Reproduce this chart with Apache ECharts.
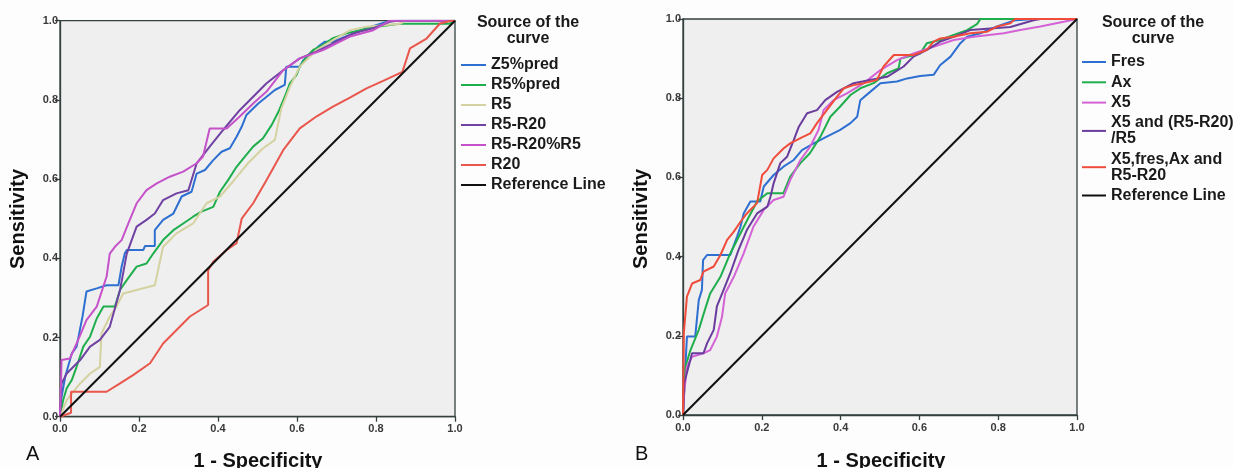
<!DOCTYPE html>
<html>
<head>
<meta charset="utf-8">
<script src="https://cdn.jsdelivr.net/npm/echarts@6/dist/echarts.min.js"></script>
<style>
html,body{margin:0;padding:0;background:#fdfdfd;}
#c{width:1233px;height:468px;}
</style>
</head>
<body>
<div id="c"></div>
<script>
// ---- Panel A data: [1 - Specificity, Sensitivity] ----
const z5pred = [[0,0],[0.004,0.05],[0.013,0.10],[0.03,0.16],[0.042,0.177],[0.057,0.253],[0.067,0.316],[0.093,0.324],[0.118,0.332],[0.148,0.332],[0.156,0.379],[0.164,0.412],[0.169,0.421],[0.211,0.421],[0.215,0.431],[0.24,0.431],[0.24,0.471],[0.261,0.497],[0.287,0.513],[0.308,0.556],[0.333,0.568],[0.346,0.614],[0.367,0.623],[0.388,0.648],[0.409,0.669],[0.43,0.678],[0.447,0.707],[0.46,0.732],[0.472,0.762],[0.502,0.791],[0.523,0.808],[0.544,0.825],[0.569,0.838],[0.573,0.884],[0.607,0.884],[0.616,0.90],[0.637,0.918],[0.653,0.934],[0.67,0.947],[0.691,0.947],[0.734,0.964],[0.776,0.981],[0.826,0.997],[0.843,1],[1,1]];
const r5pred = [[0,0],[0.008,0.042],[0.017,0.072],[0.03,0.093],[0.042,0.126],[0.059,0.177],[0.076,0.202],[0.093,0.248],[0.11,0.278],[0.139,0.278],[0.152,0.32],[0.169,0.345],[0.194,0.379],[0.219,0.387],[0.236,0.412],[0.261,0.446],[0.287,0.471],[0.312,0.488],[0.337,0.505],[0.358,0.518],[0.388,0.53],[0.405,0.568],[0.426,0.598],[0.447,0.631],[0.468,0.657],[0.489,0.682],[0.514,0.703],[0.536,0.737],[0.553,0.77],[0.569,0.808],[0.582,0.842],[0.599,0.863],[0.607,0.884],[0.624,0.909],[0.641,0.926],[0.666,0.939],[0.691,0.956],[0.725,0.968],[0.759,0.976],[0.801,0.985],[0.86,0.992],[0.986,0.992],[1,1]];
const r5 = [[0,0],[0.017,0.042],[0.051,0.084],[0.076,0.109],[0.101,0.126],[0.105,0.21],[0.126,0.253],[0.143,0.278],[0.16,0.311],[0.194,0.32],[0.24,0.332],[0.261,0.429],[0.295,0.463],[0.337,0.488],[0.371,0.539],[0.405,0.556],[0.438,0.594],[0.476,0.64],[0.514,0.678],[0.544,0.699],[0.56,0.777],[0.582,0.833],[0.607,0.884],[0.649,0.926],[0.691,0.951],[0.734,0.976],[0.776,0.985],[0.86,0.992],[0.877,1],[1,1]];
const r5r20 = [[0,0],[0.004,0.084],[0.017,0.109],[0.051,0.143],[0.076,0.177],[0.101,0.194],[0.126,0.227],[0.152,0.32],[0.169,0.412],[0.194,0.48],[0.219,0.497],[0.24,0.513],[0.261,0.547],[0.295,0.564],[0.325,0.572],[0.346,0.64],[0.379,0.682],[0.413,0.724],[0.455,0.774],[0.489,0.808],[0.523,0.842],[0.565,0.875],[0.607,0.905],[0.649,0.922],[0.691,0.943],[0.742,0.968],[0.793,0.981],[0.835,0.997],[0.852,1],[1,1]];
const r5r20pctR5 = [[0,0],[0.004,0.143],[0.025,0.147],[0.046,0.194],[0.067,0.244],[0.093,0.278],[0.118,0.354],[0.126,0.412],[0.139,0.429],[0.156,0.446],[0.173,0.488],[0.194,0.539],[0.219,0.572],[0.245,0.589],[0.278,0.606],[0.312,0.619],[0.346,0.64],[0.362,0.657],[0.379,0.728],[0.422,0.728],[0.455,0.758],[0.489,0.791],[0.523,0.821],[0.565,0.875],[0.607,0.905],[0.666,0.926],[0.734,0.96],[0.793,0.976],[0.835,1],[1,1]];
const r20 = [[0,0],[0.028,0.01],[0.028,0.063],[0.118,0.063],[0.152,0.084],[0.185,0.105],[0.228,0.135],[0.261,0.185],[0.295,0.219],[0.329,0.253],[0.375,0.282],[0.375,0.37],[0.388,0.391],[0.422,0.421],[0.447,0.438],[0.46,0.50],[0.489,0.539],[0.523,0.598],[0.565,0.673],[0.607,0.728],[0.649,0.758],[0.691,0.783],[0.734,0.806],[0.776,0.829],[0.818,0.848],[0.867,0.871],[0.886,0.93],[0.928,0.955],[0.962,0.993],[0.99,1],[1,1]];

// ---- Panel B data ----
const fres = [[0,0],[0.006,0.122],[0.01,0.198],[0.031,0.198],[0.04,0.29],[0.048,0.316],[0.051,0.391],[0.061,0.404],[0.12,0.404],[0.137,0.45],[0.146,0.476],[0.154,0.509],[0.171,0.539],[0.196,0.539],[0.205,0.577],[0.23,0.606],[0.255,0.627],[0.281,0.644],[0.302,0.669],[0.332,0.686],[0.365,0.703],[0.399,0.72],[0.425,0.737],[0.442,0.753],[0.45,0.795],[0.475,0.816],[0.501,0.838],[0.543,0.842],[0.569,0.85],[0.602,0.856],[0.636,0.859],[0.653,0.884],[0.679,0.905],[0.704,0.939],[0.721,0.955],[0.755,0.964],[0.797,0.981],[0.839,0.996],[0.89,1],[1,1]];
const ax = [[0,0],[0.006,0.122],[0.019,0.164],[0.04,0.215],[0.057,0.27],[0.069,0.307],[0.095,0.349],[0.12,0.408],[0.146,0.459],[0.167,0.5],[0.188,0.539],[0.214,0.56],[0.255,0.56],[0.272,0.602],[0.298,0.636],[0.322,0.661],[0.349,0.703],[0.374,0.753],[0.399,0.779],[0.425,0.808],[0.45,0.825],[0.484,0.838],[0.518,0.863],[0.547,0.875],[0.552,0.9],[0.602,0.913],[0.619,0.939],[0.653,0.947],[0.687,0.96],[0.721,0.972],[0.746,0.987],[0.755,1],[1,1]];
const x5 = [[0,0],[0.003,0.055],[0.01,0.122],[0.023,0.147],[0.052,0.156],[0.069,0.164],[0.086,0.198],[0.099,0.248],[0.107,0.307],[0.129,0.349],[0.154,0.408],[0.179,0.476],[0.205,0.518],[0.23,0.543],[0.255,0.551],[0.272,0.593],[0.298,0.644],[0.323,0.678],[0.344,0.72],[0.357,0.77],[0.382,0.795],[0.416,0.812],[0.459,0.838],[0.501,0.871],[0.543,0.896],[0.585,0.913],[0.636,0.93],[0.687,0.947],[0.738,0.955],[0.814,0.964],[0.856,0.972],[0.907,0.981],[0.966,0.993],[1,1]];
const x5AndR5R20 = [[0,0],[0.003,0.08],[0.014,0.122],[0.023,0.156],[0.052,0.156],[0.061,0.181],[0.078,0.215],[0.086,0.274],[0.103,0.316],[0.12,0.358],[0.141,0.417],[0.162,0.467],[0.188,0.509],[0.214,0.526],[0.222,0.551],[0.23,0.585],[0.247,0.636],[0.264,0.652],[0.281,0.694],[0.294,0.728],[0.315,0.762],[0.34,0.77],[0.361,0.795],[0.391,0.816],[0.433,0.838],[0.475,0.846],[0.518,0.854],[0.56,0.88],[0.585,0.905],[0.619,0.922],[0.653,0.943],[0.687,0.955],[0.729,0.972],[0.831,0.98],[0.89,0.997],[0.907,1],[1,1]];
const combined = [[0,0],[0.002,0.206],[0.01,0.299],[0.023,0.332],[0.044,0.341],[0.052,0.362],[0.078,0.375],[0.095,0.404],[0.112,0.442],[0.129,0.463],[0.146,0.488],[0.162,0.509],[0.188,0.535],[0.201,0.606],[0.214,0.619],[0.23,0.648],[0.255,0.673],[0.272,0.686],[0.298,0.699],[0.323,0.711],[0.34,0.737],[0.365,0.77],[0.391,0.804],[0.408,0.825],[0.433,0.833],[0.459,0.838],[0.492,0.846],[0.509,0.88],[0.535,0.909],[0.585,0.909],[0.619,0.922],[0.636,0.943],[0.653,0.951],[0.687,0.955],[0.729,0.964],[0.772,0.968],[0.797,0.981],[0.831,0.989],[0.843,1],[1,1]];
const referenceLine = [[0,0],[1,1]];

const namesA = ['Z5%pred','R5%pred','R5','R5-R20','R5-R20%R5','R20','Reference Line'];
const namesB = ['Fres','Ax','X5','X5 and (R5-R20)\n/R5','X5,fres,Ax and\nR5-R20','Reference Line'];
const ticks = [0, 0.2, 0.4, 0.6, 0.8, 1.0];

const FONT = '"Liberation Sans", Arial, sans-serif';
const colorsA = ['#2e6fd2','#1fae4c','#d4d2a0','#6f42a3','#c552c9','#e9564c','#111111'];
const colorsB = ['#2e6fd2','#1fae4c','#d462d6','#6a3c9e','#f04c3c','#111111'];
const dataA = [z5pred, r5pred, r5, r5r20, r5r20pctR5, r20, referenceLine];
const dataB = [fres, ax, x5, x5AndR5R20, combined, referenceLine];

function axisCommon(gi, isY){
  return {
    gridIndex: gi, type:'value', min:0, max:1, interval:0.2,
    axisLine:{show:true, lineStyle:{color:'#34403f', width:1.3}},
    axisTick:{show:true, inside:false, length:5, lineStyle:{color:'#34403f', width:1.3}},
    splitLine:{show:false},
    axisLabel:{fontFamily:FONT, fontSize:11, fontWeight:'bold', color:'#3a3a3a', margin: isY ? 2 : 7,
      formatter: v => v.toFixed(1)}
  };
}

const series = [];
dataA.forEach((d,i)=>series.push({
  name:namesA[i], type:'line', xAxisIndex:0, yAxisIndex:0, data:d,
  showSymbol:false, symbol:'none', lineStyle:{width:2, color:colorsA[i]}, itemStyle:{color:colorsA[i]},
  z: i===6 ? 5 : 3, silent:true, animation:false
}));
dataB.forEach((d,i)=>series.push({
  name:namesB[i], type:'line', xAxisIndex:1, yAxisIndex:1, data:d,
  showSymbol:false, symbol:'none', lineStyle:{width:2, color:colorsB[i]}, itemStyle:{color:colorsB[i]},
  z: i===5 ? 5 : 3, silent:true, animation:false
}));

const legendText = {fontFamily:FONT, fontSize:16, fontWeight:'bold', color:'#1a1a1a', lineHeight:16};

const option = {
  animation:false,
  backgroundColor:'#fdfdfd',
  grid:[
    {left:60, top:20.7, width:395, height:396, show:true, backgroundColor:'#efefef', borderColor:'#34403f', borderWidth:1.3},
    {left:683, top:19, width:394, height:396, show:true, backgroundColor:'#efefef', borderColor:'#34403f', borderWidth:1.3}
  ],
  xAxis:[axisCommon(0,false), axisCommon(1,false)],
  yAxis:[axisCommon(0,true), axisCommon(1,true)],
  legend:[
    {data:namesA, orient:'vertical', left:456, top:52, itemWidth:25, itemHeight:2, itemGap:4,
     icon:'rect', selectedMode:false, textStyle:legendText},
    {data:namesB, orient:'vertical', left:1077, top:49, itemWidth:24, itemHeight:2, itemGap:4.3,
     icon:'rect', selectedMode:false, textStyle:legendText}
  ],
  graphic:[
    {type:'text', x:528, y:15, style:{text:'Source of the\ncurve', font:'bold 16px '+FONT, fill:'#1a1a1a', align:'center', lineHeight:16}},
    {type:'text', x:1153, y:15, style:{text:'Source of the\ncurve', font:'bold 16px '+FONT, fill:'#1a1a1a', align:'center', lineHeight:16}},
    {type:'text', x:18, y:219, rotation:Math.PI/2, style:{text:'Sensitivity', font:'bold 20px '+FONT, fill:'#111', align:'center', verticalAlign:'middle'}},
    {type:'text', x:641, y:219, rotation:Math.PI/2, style:{text:'Sensitivity', font:'bold 20px '+FONT, fill:'#111', align:'center', verticalAlign:'middle'}},
    {type:'text', x:258, y:461, style:{text:'1 - Specificity', font:'bold 20px '+FONT, fill:'#111', align:'center', verticalAlign:'middle'}},
    {type:'text', x:881, y:461, style:{text:'1 - Specificity', font:'bold 20px '+FONT, fill:'#111', align:'center', verticalAlign:'middle'}},
    {type:'text', x:26, y:454, style:{text:'A', font:'20px '+FONT, fill:'#111', verticalAlign:'middle'}},
    {type:'text', x:635, y:454, style:{text:'B', font:'20px '+FONT, fill:'#111', verticalAlign:'middle'}}
  ],
  series: series
};

const chart = echarts.init(document.getElementById('c'), null, {renderer:'canvas'});
chart.setOption(option);
</script>
</body>
</html>
